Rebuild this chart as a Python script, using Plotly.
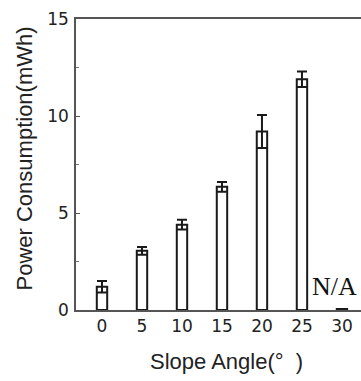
import plotly.graph_objects as go

# Data
angles = [0, 5, 10, 15, 20, 25, 30]
power = [1.2, 3.05, 4.4, 6.35, 9.2, 11.9, 0.05]
power_err = [0.3, 0.2, 0.25, 0.25, 0.85, 0.4, 0]
y_ticks = [0, 5, 10, 15]
x_ticks = [0, 5, 10, 15, 20, 25, 30]
na_label = "N/A"
na_angle = 29.1

W, H = 361, 381
L, R, T, B = 76, 0, 19, 71

fig = go.Figure()
fig.add_trace(go.Bar(
    x=angles, y=power, width=1.3,
    marker=dict(color="white", line=dict(color="#1a1a1a", width=2)),
    error_y=dict(type="data", array=power_err, visible=True,
                 color="#1a1a1a", thickness=2, width=5),
))

fig.update_layout(
    width=W, height=H,
    margin=dict(l=L, r=R, t=T, b=B, pad=0),
    paper_bgcolor="white", plot_bgcolor="white",
    showlegend=False,
    xaxis=dict(
        range=[-3.25, 32.38], tickvals=x_ticks, ticktext=[str(v) for v in x_ticks],
        showgrid=False, zeroline=False, showline=True, linecolor="#555",
        linewidth=1.5, mirror=True, ticks="",
        tickfont=dict(family="DejaVu Sans", size=17, color="#222"),
    ),
    yaxis=dict(
        range=[0, 15], tickvals=y_ticks, ticktext=[str(v) for v in y_ticks],
        showgrid=False, zeroline=False, showline=True, linecolor="#555",
        linewidth=1.5, ticks="inside", ticklen=4, tickcolor="#555", tickwidth=1,
        minor=dict(ticks="inside", ticklen=3, dtick=2.5, tick0=0, tickcolor="#777", tickwidth=1),
        tickfont=dict(family="DejaVu Sans", size=17, color="#222"),
        ticklabelstandoff=2,
    ),
    annotations=[
        dict(text=na_label, x=na_angle, y=1.19, xref="x", yref="y",
             showarrow=False, xanchor="center", yanchor="middle",
             font=dict(family="Liberation Serif", size=26, color="#111")),
        dict(text="Slope Angle(°\u00a0\u00a0)", x=(226 - L) / (W - L - R), y=(310 - 361) / (H - T - B),
             xref="paper", yref="paper", showarrow=False,
             xanchor="center", yanchor="middle",
             font=dict(family="Liberation Sans", size=22, color="#222")),
        dict(text="Power Consumption(mWh)", x=(24 - L) / (W - L - R), y=(310 - 158.5) / (H - T - B),
             xref="paper", yref="paper", showarrow=False, textangle=-90,
             xanchor="center", yanchor="middle",
             font=dict(family="Liberation Sans", size=22, color="#222")),
    ],
)

fig.write_html("out.html")
